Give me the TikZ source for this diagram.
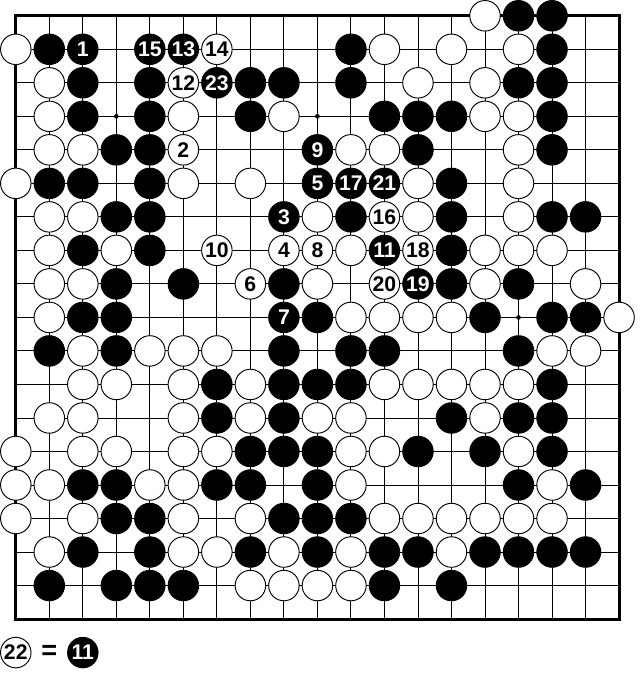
\documentclass[tikz,border=0pt]{standalone}
\usepackage{fontspec}
\setmainfont{Liberation Sans}
\begin{document}
\begin{tikzpicture}
	\tikzset{
		st/.style={insert path={circle[radius=0.455]}},
		sp/.style={insert path={circle[radius=0.07]}},
		bm/.style={circle, draw, fill=black, text=white, line width=0.8pt, minimum size=0.91cm, inner sep=0pt, font=\bfseries\fontsize{18}{18}\selectfont},
		wm/.style={bm, fill=white, text=black},
	}
	\useasboundingbox (-0.471,0.471) rectangle (18.596,-19.878);
	\draw[line width=0.8pt] (0,-18) grid (18,0);
	\draw[line width=2.5pt] (0,-18) rectangle (18,0);
	\fill (3,-3)[sp] (9,-3)[sp] (15,-3)[sp] (3,-9)[sp] (9,-9)[sp] (15,-9)[sp] (3,-15)[sp] (9,-15)[sp] (15,-15)[sp];
	\draw[line width=0.8pt,fill=black] (15,0)[st] (16,0)[st];
	\draw[line width=0.8pt,fill=white] (14,0)[st];
	\draw[line width=0.8pt,fill=black] (1,-1)[st] (10,-1)[st] (16,-1)[st];
	\draw[line width=0.8pt,fill=white] (0,-1)[st] (11,-1)[st] (13,-1)[st] (15,-1)[st];
	\draw[line width=0.8pt,fill=black] (2,-2)[st] (4,-2)[st] (7,-2)[st] (8,-2)[st] (10,-2)[st] (15,-2)[st] (16,-2)[st];
	\draw[line width=0.8pt,fill=white] (1,-2)[st] (12,-2)[st] (14,-2)[st];
	\draw[line width=0.8pt,fill=black] (2,-3)[st] (4,-3)[st] (7,-3)[st] (11,-3)[st] (12,-3)[st] (13,-3)[st] (16,-3)[st];
	\draw[line width=0.8pt,fill=white] (1,-3)[st] (5,-3)[st] (8,-3)[st] (14,-3)[st] (15,-3)[st];
	\draw[line width=0.8pt,fill=black] (3,-4)[st] (4,-4)[st] (12,-4)[st] (16,-4)[st];
	\draw[line width=0.8pt,fill=white] (1,-4)[st] (2,-4)[st] (10,-4)[st] (11,-4)[st] (15,-4)[st];
	\draw[line width=0.8pt,fill=black] (1,-5)[st] (2,-5)[st] (4,-5)[st] (13,-5)[st];
	\draw[line width=0.8pt,fill=white] (0,-5)[st] (5,-5)[st] (7,-5)[st] (12,-5)[st] (15,-5)[st];
	\draw[line width=0.8pt,fill=black] (3,-6)[st] (4,-6)[st] (10,-6)[st] (13,-6)[st] (16,-6)[st] (17,-6)[st];
	\draw[line width=0.8pt,fill=white] (1,-6)[st] (2,-6)[st] (9,-6)[st] (12,-6)[st] (15,-6)[st];
	\draw[line width=0.8pt,fill=black] (2,-7)[st] (4,-7)[st] (13,-7)[st];
	\draw[line width=0.8pt,fill=white] (1,-7)[st] (3,-7)[st] (10,-7)[st] (14,-7)[st] (15,-7)[st] (16,-7)[st];
	\draw[line width=0.8pt,fill=black] (3,-8)[st] (5,-8)[st] (8,-8)[st] (13,-8)[st] (15,-8)[st];
	\draw[line width=0.8pt,fill=white] (1,-8)[st] (2,-8)[st] (9,-8)[st] (14,-8)[st] (17,-8)[st];
	\draw[line width=0.8pt,fill=black] (2,-9)[st] (3,-9)[st] (9,-9)[st] (14,-9)[st] (16,-9)[st] (17,-9)[st];
	\draw[line width=0.8pt,fill=white] (1,-9)[st] (10,-9)[st] (11,-9)[st] (12,-9)[st] (13,-9)[st] (18,-9)[st];
	\draw[line width=0.8pt,fill=black] (1,-10)[st] (3,-10)[st] (8,-10)[st] (10,-10)[st] (11,-10)[st] (15,-10)[st];
	\draw[line width=0.8pt,fill=white] (2,-10)[st] (4,-10)[st] (5,-10)[st] (6,-10)[st] (16,-10)[st] (17,-10)[st];
	\draw[line width=0.8pt,fill=black] (6,-11)[st] (8,-11)[st] (9,-11)[st] (10,-11)[st] (16,-11)[st];
	\draw[line width=0.8pt,fill=white] (2,-11)[st] (3,-11)[st] (5,-11)[st] (7,-11)[st] (11,-11)[st] (12,-11)[st] (13,-11)[st] (14,-11)[st] (15,-11)[st];
	\draw[line width=0.8pt,fill=black] (6,-12)[st] (8,-12)[st] (13,-12)[st] (15,-12)[st] (16,-12)[st];
	\draw[line width=0.8pt,fill=white] (1,-12)[st] (2,-12)[st] (5,-12)[st] (7,-12)[st] (9,-12)[st] (10,-12)[st] (14,-12)[st];
	\draw[line width=0.8pt,fill=black] (7,-13)[st] (8,-13)[st] (9,-13)[st] (12,-13)[st] (14,-13)[st] (16,-13)[st];
	\draw[line width=0.8pt,fill=white] (0,-13)[st] (2,-13)[st] (3,-13)[st] (5,-13)[st] (6,-13)[st] (10,-13)[st] (11,-13)[st] (15,-13)[st];
	\draw[line width=0.8pt,fill=black] (2,-14)[st] (3,-14)[st] (6,-14)[st] (7,-14)[st] (9,-14)[st] (15,-14)[st] (17,-14)[st];
	\draw[line width=0.8pt,fill=white] (0,-14)[st] (1,-14)[st] (4,-14)[st] (5,-14)[st] (10,-14)[st] (16,-14)[st];
	\draw[line width=0.8pt,fill=black] (3,-15)[st] (4,-15)[st] (8,-15)[st] (9,-15)[st] (10,-15)[st];
	\draw[line width=0.8pt,fill=white] (0,-15)[st] (2,-15)[st] (5,-15)[st] (7,-15)[st] (11,-15)[st] (12,-15)[st] (13,-15)[st] (14,-15)[st] (15,-15)[st] (16,-15)[st];
	\draw[line width=0.8pt,fill=black] (2,-16)[st] (4,-16)[st] (7,-16)[st] (9,-16)[st] (11,-16)[st] (12,-16)[st] (14,-16)[st] (15,-16)[st] (16,-16)[st] (17,-16)[st];
	\draw[line width=0.8pt,fill=white] (1,-16)[st] (5,-16)[st] (6,-16)[st] (8,-16)[st] (10,-16)[st] (13,-16)[st];
	\draw[line width=0.8pt,fill=black] (1,-17)[st] (3,-17)[st] (4,-17)[st] (5,-17)[st] (11,-17)[st] (13,-17)[st];
	\draw[line width=0.8pt,fill=white] (7,-17)[st] (8,-17)[st] (9,-17)[st] (10,-17)[st];
	\node[bm] (m1) at (2,-1) {1};
	\node[wm] (m2) at (5,-4) {2};
	\node[bm] (m3) at (8,-6) {3};
	\node[wm] (m4) at (8,-7) {4};
	\node[bm] (m5) at (9,-5) {5};
	\node[wm] (m6) at (7,-8) {6};
	\node[bm] (m7) at (8,-9) {7};
	\node[wm] (m8) at (9,-7) {8};
	\node[bm] (m9) at (9,-4) {9};
	\node[wm] (m10) at (6,-7) {10};
	\node[bm] (m11) at (11,-7) {11};
	\node[wm] (m12) at (5,-2) {12};
	\node[bm] (m13) at (5,-1) {13};
	\node[wm] (m14) at (6,-1) {14};
	\node[bm] (m15) at (4,-1) {15};
	\node[wm] (m16) at (11,-6) {16};
	\node[bm] (m17) at (10,-5) {17};
	\node[wm] (m18) at (12,-7) {18};
	\node[bm] (m19) at (12,-8) {19};
	\node[wm] (m20) at (11,-8) {20};
	\node[bm] (m21) at (11,-5) {21};
	\node[bm] (m23) at (6,-2) {23};
	\node[wm] (k22) at (0,-19) {22};
	\node[font=\bfseries\fontsize{23}{23}\selectfont] (eq) at (1,-19) {=};
	\node[bm] (k11) at (2,-19) {11};
\end{tikzpicture}
\end{document}
